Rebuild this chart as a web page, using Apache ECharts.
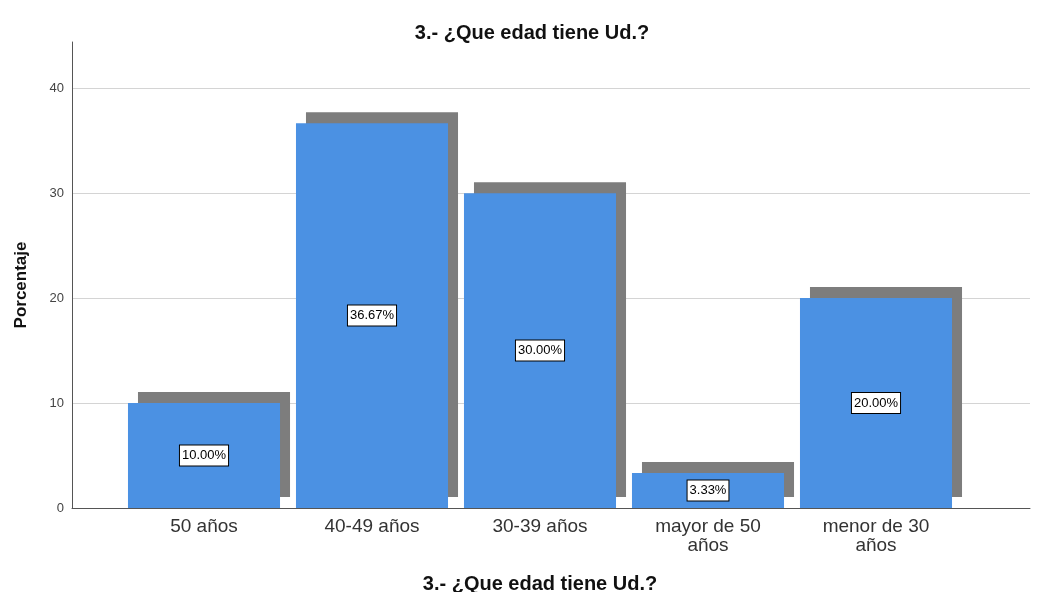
<!DOCTYPE html>
<html><head><meta charset="utf-8">
<script src="https://cdn.jsdelivr.net/npm/echarts@6/dist/echarts.min.js"></script>
<style>html,body{margin:0;padding:0;background:#fff}#c{width:1046px;height:592px}</style>
</head><body><div id="c"></div>
<script>
const categories = ['50 años', '40-49 años', '30-39 años', 'mayor de 50\naños', 'menor de 30\naños'];
const percentages = [10.00, 36.67, 30.00, 3.33, 20.00];
const yTicks = [0, 10, 20, 30, 40];
const chartTitle = '3.- ¿Que edad tiene Ud.?';
const yTitle = 'Porcentaje';

const FONT = '"Liberation Sans", Arial, sans-serif';
const YMAX = 44.4;
const TICKMAX = yTicks[yTicks.length - 1];
const chart = echarts.init(document.getElementById('c'), null, {renderer: 'canvas'});
chart.setOption({
  animation: false,
  backgroundColor: '#fff',
  title: {text: chartTitle, left: 527, top: 18, textAlign: 'center',
    textStyle: {fontFamily: FONT, fontSize: 20, fontWeight: 'bold', color: '#111'}},
  graphic: [{type: 'text', x: 13, y: 285, rotation: Math.PI / 2,
    style: {text: yTitle, fontFamily: FONT, fontSize: 17, fontWeight: 'bold', fill: '#111',
      align: 'center', verticalAlign: 'top'}}],
  grid: [
    {left: 72, right: 16, top: 42, bottom: 84, outerBoundsMode: 'none', containLabel: false},
    {left: 120, right: 86, top: 42, bottom: 84, outerBoundsMode: 'none', containLabel: false},
    {left: 72, right: 16, top: 88, bottom: 84, outerBoundsMode: 'none', containLabel: false}
  ],
  xAxis: [
    {gridIndex: 0, type: 'value', min: 0, max: 1,
      axisLine: {show: true, lineStyle: {color: '#555', width: 1}},
      axisTick: {show: false}, axisLabel: {show: false}, splitLine: {show: false}},
    {gridIndex: 1, type: 'category', data: categories,
      name: chartTitle, nameLocation: 'middle', nameGap: 66,
      nameTextStyle: {fontFamily: FONT, fontSize: 20, fontWeight: 'bold', color: '#111'},
      axisLine: {show: false}, axisTick: {show: false},
      axisLabel: {fontFamily: FONT, fontSize: 19, color: '#333', margin: 9, lineHeight: 19, interval: 0}},
    {gridIndex: 2, type: 'value', min: 0, max: 1, show: false}
  ],
  yAxis: [
    {gridIndex: 0, type: 'value', min: 0, max: YMAX,
      axisLine: {show: true, lineStyle: {color: '#555', width: 1}},
      axisTick: {show: false}, axisLabel: {show: false}, splitLine: {show: false}},
    {gridIndex: 1, type: 'value', min: 0, max: YMAX, show: false, splitLine: {show: false}},
    {gridIndex: 2, type: 'value', min: 0, max: TICKMAX, interval: 10,
      axisLine: {show: false}, axisTick: {show: false},
      axisLabel: {fontFamily: FONT, fontSize: 13, color: '#444', margin: 8,
        formatter: v => yTicks.includes(v) ? String(v) : ''},
      splitLine: {show: true, lineStyle: {color: '#d4d4d4', width: 1}}}
  ],
  series: [{
    type: 'bar', xAxisIndex: 1, yAxisIndex: 1, data: percentages,
    barCategoryGap: '9.5%',
    itemStyle: {color: '#4b91e3', shadowColor: '#7d7d7d', shadowOffsetX: 10, shadowOffsetY: -11, shadowBlur: 0},
    label: {show: true, position: 'inside', formatter: p => p.value.toFixed(2) + '%',
      fontFamily: FONT, fontSize: 13, color: '#000', backgroundColor: '#fff',
      borderColor: '#000', borderWidth: 1, padding: [4, 2, 3, 2]}
  }]
});
</script></body></html>
